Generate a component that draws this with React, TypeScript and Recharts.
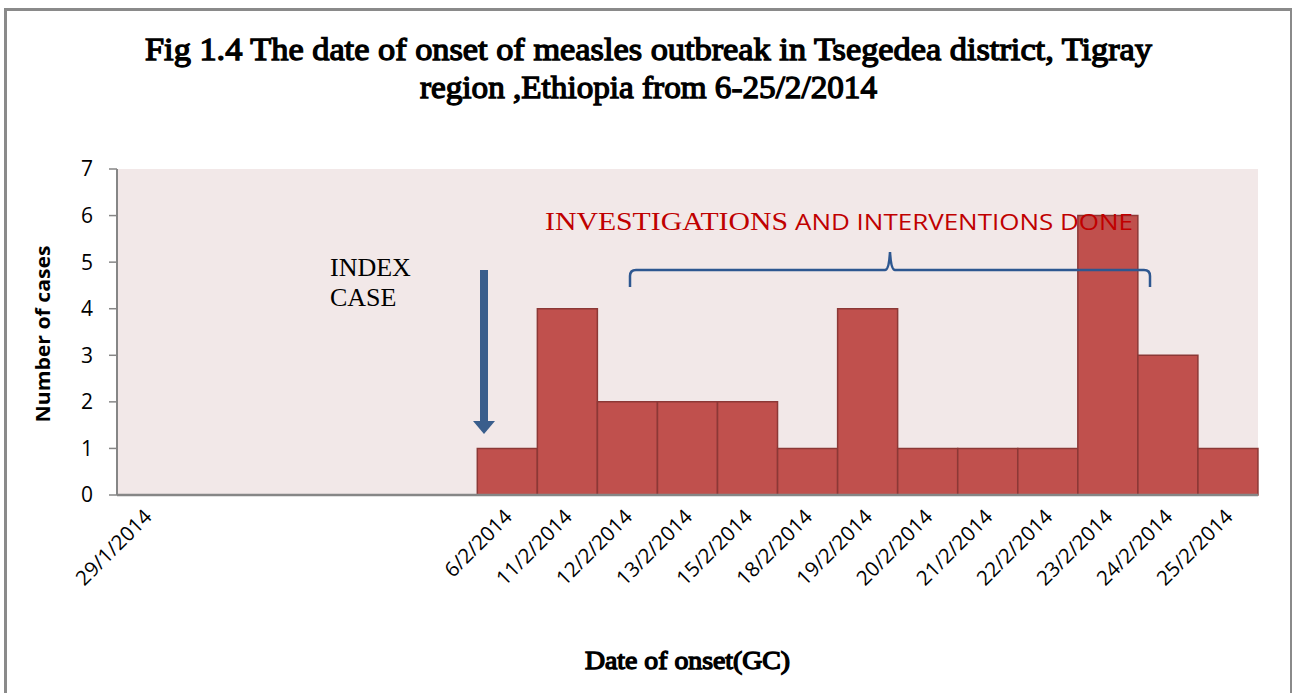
import React from "react";
import { BarChart, Bar, XAxis, YAxis, CartesianGrid } from "recharts";

const categories = [
  "29/1/2014", "", "", "", "", "",
  "6/2/2014", "11/2/2014", "12/2/2014", "13/2/2014", "15/2/2014", "18/2/2014",
  "19/2/2014", "20/2/2014", "21/2/2014", "22/2/2014", "23/2/2014", "24/2/2014", "25/2/2014",
];
const cases = [0, 0, 0, 0, 0, 0, 1, 4, 2, 2, 2, 1, 4, 1, 1, 1, 6, 3, 1];
const yTicks = [0, 1, 2, 3, 4, 5, 6, 7];

const data = categories.map((c, i) => ({ key: `c${i}`, date: c, cases: cases[i] }));

const SANS = "'Open Sans', 'Noto Sans', sans-serif";
const SERIF = "'Liberation Serif'";

const XTick = (props: any) => {
  const { x, y, payload } = props;
  const label = categories[payload.index] ?? "";
  if (!label) return null;
  const ex = x + 6;
  const ey = y + 15;
  return (
    <text
      x={ex}
      y={ey}
      transform={`rotate(-45 ${ex} ${ey})`}
      textAnchor="end"
      fontFamily={SANS}
      fontSize={20.5}
      fill="#000"
    >
      {label}
    </text>
  );
};

const boldSerif = { fontFamily: SERIF, fontWeight: 400 as const, stroke: "#000", strokeWidth: 1.3, fill: "#000" };

export default function App() {
  return (
    <div style={{ position: "absolute", left: 0, top: 0, width: 1292, height: 693, background: "#fff" }}>
      <div
        style={{
          position: "absolute",
          left: 4,
          top: 8,
          width: 1283,
          height: 690,
          borderLeft: "3px solid #8a8a8a",
          borderTop: "3px solid #8a8a8a",
          borderRight: "3px solid #8a8a8a",
        }}
      />
      <div style={{ position: "absolute", left: 0, top: 0 }}>
        <BarChart
          width={1292}
          height={693}
          data={data}
          margin={{ top: 169, right: 34, bottom: 48, left: 0 }}
          barCategoryGap={0}
          barGap={0}
        >
          <CartesianGrid fill="#F2E8E8" horizontal={false} vertical={false} stroke="none" />
          <XAxis
            dataKey="key"
            height={150}
            tickLine={false}
            axisLine={{ stroke: "#868686", strokeWidth: 2.5 }}
            tick={<XTick />}
            interval={0}
          />
          <YAxis
            width={117}
            domain={[0, 7]}
            ticks={yTicks}
            interval={0}
            tickSize={8}
            tickMargin={16}
            axisLine={{ stroke: "#868686", strokeWidth: 2 }}
            tickLine={{ stroke: "#868686", strokeWidth: 1.5 }}
            tick={{ fontFamily: SANS, fontSize: 21, fill: "#000" }}
          />
          <Bar
            dataKey="cases"
            fill="#C0504D"
            stroke="#8C3836"
            strokeWidth={1.5}
            isAnimationActive={false}
          />
        </BarChart>
      </div>
      <svg
        width={1292}
        height={693}
        style={{ position: "absolute", left: 0, top: 0, pointerEvents: "none" }}
      >
        <text
          x={145}
          y={60}
          {...boldSerif}
          fontSize={32}
          textLength={1007}
          lengthAdjust="spacingAndGlyphs"
        >
          Fig 1.4 The  date of onset of measles outbreak  in Tsegedea district, Tigray
        </text>
        <text
          x={420}
          y={98}
          {...boldSerif}
          fontSize={32}
          textLength={457}
          lengthAdjust="spacingAndGlyphs"
        >
          region ,Ethiopia from 6-25/2/2014
        </text>
        <text
          x={0}
          y={0}
          transform="translate(50 334) rotate(-90)"
          textAnchor="middle"
          fontFamily={SANS}
          fontWeight="bold"
          fontSize={20}
          textLength={177}
          lengthAdjust="spacingAndGlyphs"
          fill="#000"
        >
          Number of cases
        </text>
        <text
          x={585}
          y={669}
          {...boldSerif}
          fontSize={25}
          textLength={205}
          lengthAdjust="spacingAndGlyphs"
        >
          Date of onset(GC)
        </text>
        <text x={330} y={276} fontFamily={SERIF} fontSize={26} fill="#000">INDEX</text>
        <text x={330} y={306} fontFamily={SERIF} fontSize={26} fill="#000">CASE</text>
        <rect x={480} y={270} width={8} height={152} fill="#3A5E8C" />
        <polygon points="473,421 495,421 484,434" fill="#3A5E8C" />
        <text
          x={545}
          y={230}
          fill="#C00000"
          fontFamily={SERIF}
          fontSize={26}
          textLength={243}
          lengthAdjust="spacingAndGlyphs"
        >
          INVESTIGATIONS
        </text>
        <text
          x={795}
          y={230}
          fill="#C00000"
          fontFamily={SANS}
          fontSize={22}
          textLength={338}
          lengthAdjust="spacingAndGlyphs"
        >
          AND  INTERVENTIONS DONE
        </text>
        <path
          d="M630,287 L630,276 Q630,270 636,270 L885,270 Q889,270 890,252 Q891,270 895,270 L1144,270 Q1150,270 1150,276 L1150,287"
          fill="none"
          stroke="#2E5790"
          strokeWidth={2.5}
        />
      </svg>
    </div>
  );
}
